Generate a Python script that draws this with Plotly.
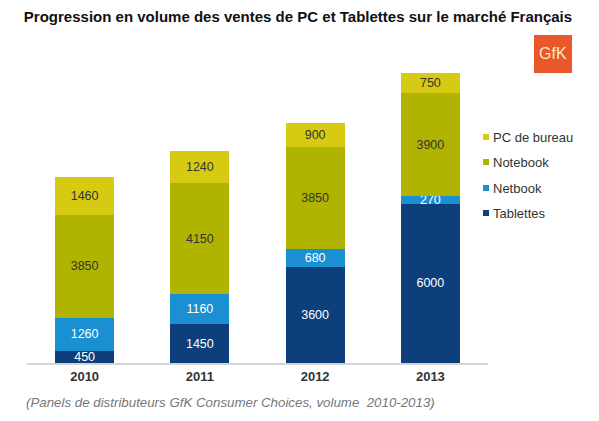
import plotly.graph_objects as go

years = ["2010", "2011", "2012", "2013"]
tablettes = [450, 1450, 3600, 6000]
netbook = [1260, 1160, 680, 270]
notebook = [3850, 4150, 3850, 3900]
pc_bureau = [1460, 1240, 900, 750]

series = [
    ("Tablettes", tablettes, "#0d3f7c", "white"),
    ("Netbook", netbook, "#1a8fd2", "white"),
    ("Notebook", notebook, "#b0b400", "#333333"),
    ("PC de bureau", pc_bureau, "#d6cb12", "#333333"),
]

W, H = 599, 421
L, R, T, B = 27, 111, 60, 58
pw, ph = W - L - R, H - T - B

def px(x):
    return (x - L) / pw

def py(y):
    return (H - B - y) / ph

fig = go.Figure()
for name, vals, col, tcol in series:
    fig.add_trace(go.Bar(
        x=years, y=vals, name=name, marker=dict(color=col, line=dict(width=0)),
        text=[str(v) for v in vals], textposition="inside", insidetextanchor="middle",
        textfont=dict(color=tcol, size=12.5, family="Liberation Sans, Arial"),
        showlegend=False, hoverinfo="skip",
    ))

shapes = []
annotations = []
# manual legend
legend_y = [137, 162, 188, 213]
for (name, vals, col, tcol), ly in zip(reversed(series), legend_y):
    shapes.append(dict(type="rect", xref="paper", yref="paper",
                       x0=px(483), x1=px(489), y0=py(ly + 3), y1=py(ly - 3),
                       fillcolor=col, line=dict(width=0)))
    annotations.append(dict(text=name, xref="paper", yref="paper", x=px(491), y=py(ly),
                            xanchor="left", yanchor="middle", showarrow=False,
                            font=dict(size=13, color="#333333", family="Liberation Sans, Arial")))

# GfK logo
shapes.append(dict(type="rect", xref="paper", yref="paper",
                   x0=px(534), x1=px(572), y0=py(73), y1=py(35),
                   fillcolor="#e8582a", line=dict(width=0)))
annotations.append(dict(text="GfK", xref="paper", yref="paper", x=px(553), y=py(54),
                        xanchor="center", yanchor="middle", showarrow=False,
                        font=dict(size=16, color="#fbe9c8", family="Liberation Sans, Arial")))

# footnote
annotations.append(dict(text="(Panels de distributeurs GfK Consumer Choices, volume  2010-2013)",
                        xref="paper", yref="paper", x=px(24), y=py(402),
                        xanchor="left", yanchor="middle", showarrow=False,
                        font=dict(size=13.3, color="#777777", family="Liberation Sans, Arial",
                                  style="italic")))

fig.update_layout(
    width=W, height=H, barmode="stack", bargap=0.49,
    margin=dict(l=L, r=R, t=T, b=B),
    paper_bgcolor="white", plot_bgcolor="white",
    title=dict(text="<b>Progression en volume des ventes de PC et Tablettes sur le marché Français</b>",
               x=px(298), xref="paper", xanchor="center", y=1 - 17 / H, yanchor="middle",
               font=dict(size=15, color="#111111", family="Liberation Sans, Arial")),
    xaxis=dict(showline=True, linecolor="#d4d4d4", linewidth=2, ticks="",
               tickfont=dict(size=13, color="#333333", family="Liberation Sans, Arial", weight="bold"),
               showgrid=False, zeroline=False),
    yaxis=dict(visible=False, range=[0, ph / 0.02656], showgrid=False, zeroline=False),
    shapes=shapes, annotations=annotations,
    uniformtext=dict(minsize=12.5, mode="show"),
)

fig.write_html("out.html")
